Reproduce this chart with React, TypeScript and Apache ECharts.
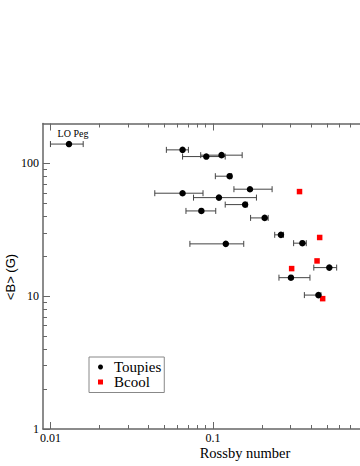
import React, { useEffect, useRef } from "react";
import * as echarts from "echarts";

// Toupies sample (Rossby number, <B> in G, Rossby error range)
const toupiesNames = ["LO Peg", "", "", "", "", "", "", "", "", "", "", "", "", "", "", "", ""];
const toupiesRo = [0.013, 0.0649, 0.0908, 0.1127, 0.1264, 0.1685, 0.0649, 0.1086, 0.1573, 0.0847, 0.2075, 0.2612, 0.1197, 0.354, 0.518, 0.301, 0.444];
const toupiesB = [140, 126.6, 112.7, 115.5, 80.2, 64, 59.7, 55.3, 49.0, 43.9, 38.9, 29.0, 24.8, 25.1, 16.43, 13.8, 10.2];
const toupiesRoLow = [0.01, 0.0516, 0.0649, 0.0839, 0.1032, 0.1343, 0.0438, 0.0758, 0.1187, 0.0681, 0.17, 0.2392, 0.072, 0.3126, 0.416, 0.254, 0.364];
const toupiesRoHigh = [0.0159, 0.0705, 0.1187, 0.1509, 0.13, 0.2305, 0.0867, 0.1847, 0.162, 0.1038, 0.2181, 0.271, 0.1543, 0.374, 0.575, 0.394, 0.46];

// Bcool sample
const bcoolRo = [0.3398, 0.452, 0.4355, 0.304, 0.4716];
const bcoolB = [61.4, 27.7, 18.45, 16.15, 9.59];

// Axis ticks
const xMajorTicks = [0.01, 0.1];
const xMinorTicks = [0.02, 0.03, 0.04, 0.05, 0.06, 0.07, 0.08, 0.09, 0.2, 0.3, 0.4, 0.5, 0.6, 0.7];
const yMajorTicks = [1, 10, 100];
const yMinorTicks = [2, 3, 4, 5, 6, 7, 8, 9, 20, 30, 40, 50, 60, 70, 80, 90];

const X_MIN = 0.009;
const X_MAX = 0.8;
const Y_MIN = 1;
const Y_MAX = 200;

const AXIS_COLOR = "#666";
const SERIF = "'Liberation Serif', 'DejaVu Serif', serif";
const SANS = "'Liberation Sans', 'DejaVu Sans', sans-serif";

function makeX(position: string, ticks: number[], len: number, showLine: boolean, labels: number[] | null) {
  return {
    type: "log",
    logBase: 10,
    gridIndex: 0,
    position,
    min: X_MIN,
    max: X_MAX,
    axisLine: { show: showLine, onZero: false, lineStyle: { color: AXIS_COLOR, width: 1.5 } },
    axisTick: { show: true, inside: true, length: len, customValues: ticks, lineStyle: { color: AXIS_COLOR, width: 1 } },
    axisLabel: labels
      ? { show: true, customValues: labels, margin: 3, color: "#000", fontFamily: SERIF, fontSize: 12, lineHeight: 12, formatter: (v: number) => String(v) }
      : { show: false },
    splitLine: { show: false },
    minorTick: { show: false },
  };
}

function makeY(position: string, ticks: number[], len: number, showLine: boolean, labels: number[] | null) {
  return {
    type: "log",
    logBase: 10,
    gridIndex: 0,
    position,
    min: Y_MIN,
    max: Y_MAX,
    axisLine: { show: showLine, onZero: false, lineStyle: { color: AXIS_COLOR, width: 1.5 } },
    axisTick: { show: true, inside: true, length: len, customValues: ticks, lineStyle: { color: AXIS_COLOR, width: 1 } },
    axisLabel: labels
      ? { show: true, customValues: labels, margin: 4, color: "#000", fontFamily: SERIF, fontSize: 12, formatter: (v: number) => String(v) }
      : { show: false },
    splitLine: { show: false },
    minorTick: { show: false },
  };
}

export default function App() {
  const ref = useRef<HTMLDivElement>(null);

  useEffect(() => {
    if (!ref.current) return;
    const chart = echarts.init(ref.current, undefined, { renderer: "svg" });

    const errData = toupiesRo.map((x, i) => [x, toupiesB[i], toupiesRoLow[i], toupiesRoHigh[i]]);
    const toupiesData = toupiesRo.map((x, i) => {
      const item: any = { value: [x, toupiesB[i]], name: toupiesNames[i] };
      if (toupiesNames[i]) {
        item.label = {
          show: true,
          position: "top",
          distance: 2,
          offset: [4, 0],
          formatter: toupiesNames[i],
          color: "#000",
          fontFamily: SERIF,
          fontSize: 10,
        };
      }
      return item;
    });
    const bcoolData = bcoolRo.map((x, i) => [x, bcoolB[i]]);

    const option: any = {
      animation: false,
      backgroundColor: "#fff",
      grid: { left: 43, top: 123.5, width: 324, height: 305.5, containLabel: false },
      xAxis: [
        makeX("bottom", xMajorTicks, 7, true, xMajorTicks),
        makeX("bottom", xMinorTicks, 4, false, null),
        makeX("top", xMajorTicks, 7, true, null),
        makeX("top", xMinorTicks, 4, false, null),
      ],
      yAxis: [
        makeY("left", yMajorTicks, 7, true, yMajorTicks),
        makeY("left", yMinorTicks, 4, false, null),
      ],
      legend: {
        data: ["Toupies", "Bcool"],
        orient: "vertical",
        left: 89,
        top: 357,
        itemWidth: 5,
        itemHeight: 5,
        itemGap: 0,
        padding: [2.5, 3, 3, 9],
        borderColor: "#888",
        borderWidth: 1,
        backgroundColor: "#fff",
        textStyle: { fontFamily: SERIF, fontSize: 15, lineHeight: 15, color: "#000", padding: [0, 0, 0, 6] },
      },
      graphic: [
        {
          type: "text",
          x: 245,
          y: 452.5,
          style: { text: "Rossby number", font: `14.5px ${SERIF}`, fill: "#000", align: "center", verticalAlign: "middle" },
        },
        {
          type: "text",
          x: 10,
          y: 277,
          rotation: Math.PI / 2,
          style: { text: "<B> (G)", font: `13px ${SANS}`, fill: "#000", align: "center", verticalAlign: "middle" },
        },
      ],
      series: [
        {
          name: "errors",
          type: "custom",
          xAxisIndex: 0,
          yAxisIndex: 0,
          data: errData,
          encode: { x: 0, y: 1 },
          z: 1,
          renderItem: (params: any, api: any) => {
            const y = api.value(1);
            const lo = api.coord([api.value(2), y]);
            const hi = api.coord([api.value(3), y]);
            const h = 3;
            const style = { stroke: "#444", lineWidth: 1 };
            return {
              type: "group",
              children: [
                { type: "line", shape: { x1: lo[0], y1: lo[1], x2: hi[0], y2: hi[1] }, style },
                { type: "line", shape: { x1: lo[0], y1: lo[1] - h, x2: lo[0], y2: lo[1] + h }, style },
                { type: "line", shape: { x1: hi[0], y1: hi[1] - h, x2: hi[0], y2: hi[1] + h }, style },
              ],
            };
          },
        },
        {
          name: "Toupies",
          type: "scatter",
          xAxisIndex: 0,
          yAxisIndex: 0,
          symbol: "circle",
          symbolSize: 6.5,
          itemStyle: { color: "#000", opacity: 1 },
          data: toupiesData,
          z: 3,
        },
        {
          name: "Bcool",
          type: "scatter",
          xAxisIndex: 0,
          yAxisIndex: 0,
          symbol: "rect",
          symbolSize: 5.5,
          itemStyle: { color: "#ff0000", opacity: 1 },
          data: bcoolData,
          z: 2,
        },
      ],
    };

    chart.setOption(option);
    return () => chart.dispose();
  }, []);

  return (
    <div
      ref={ref}
      style={{ position: "absolute", left: 0, top: 0, width: 360, height: 466, overflow: "hidden" }}
    />
  );
}
